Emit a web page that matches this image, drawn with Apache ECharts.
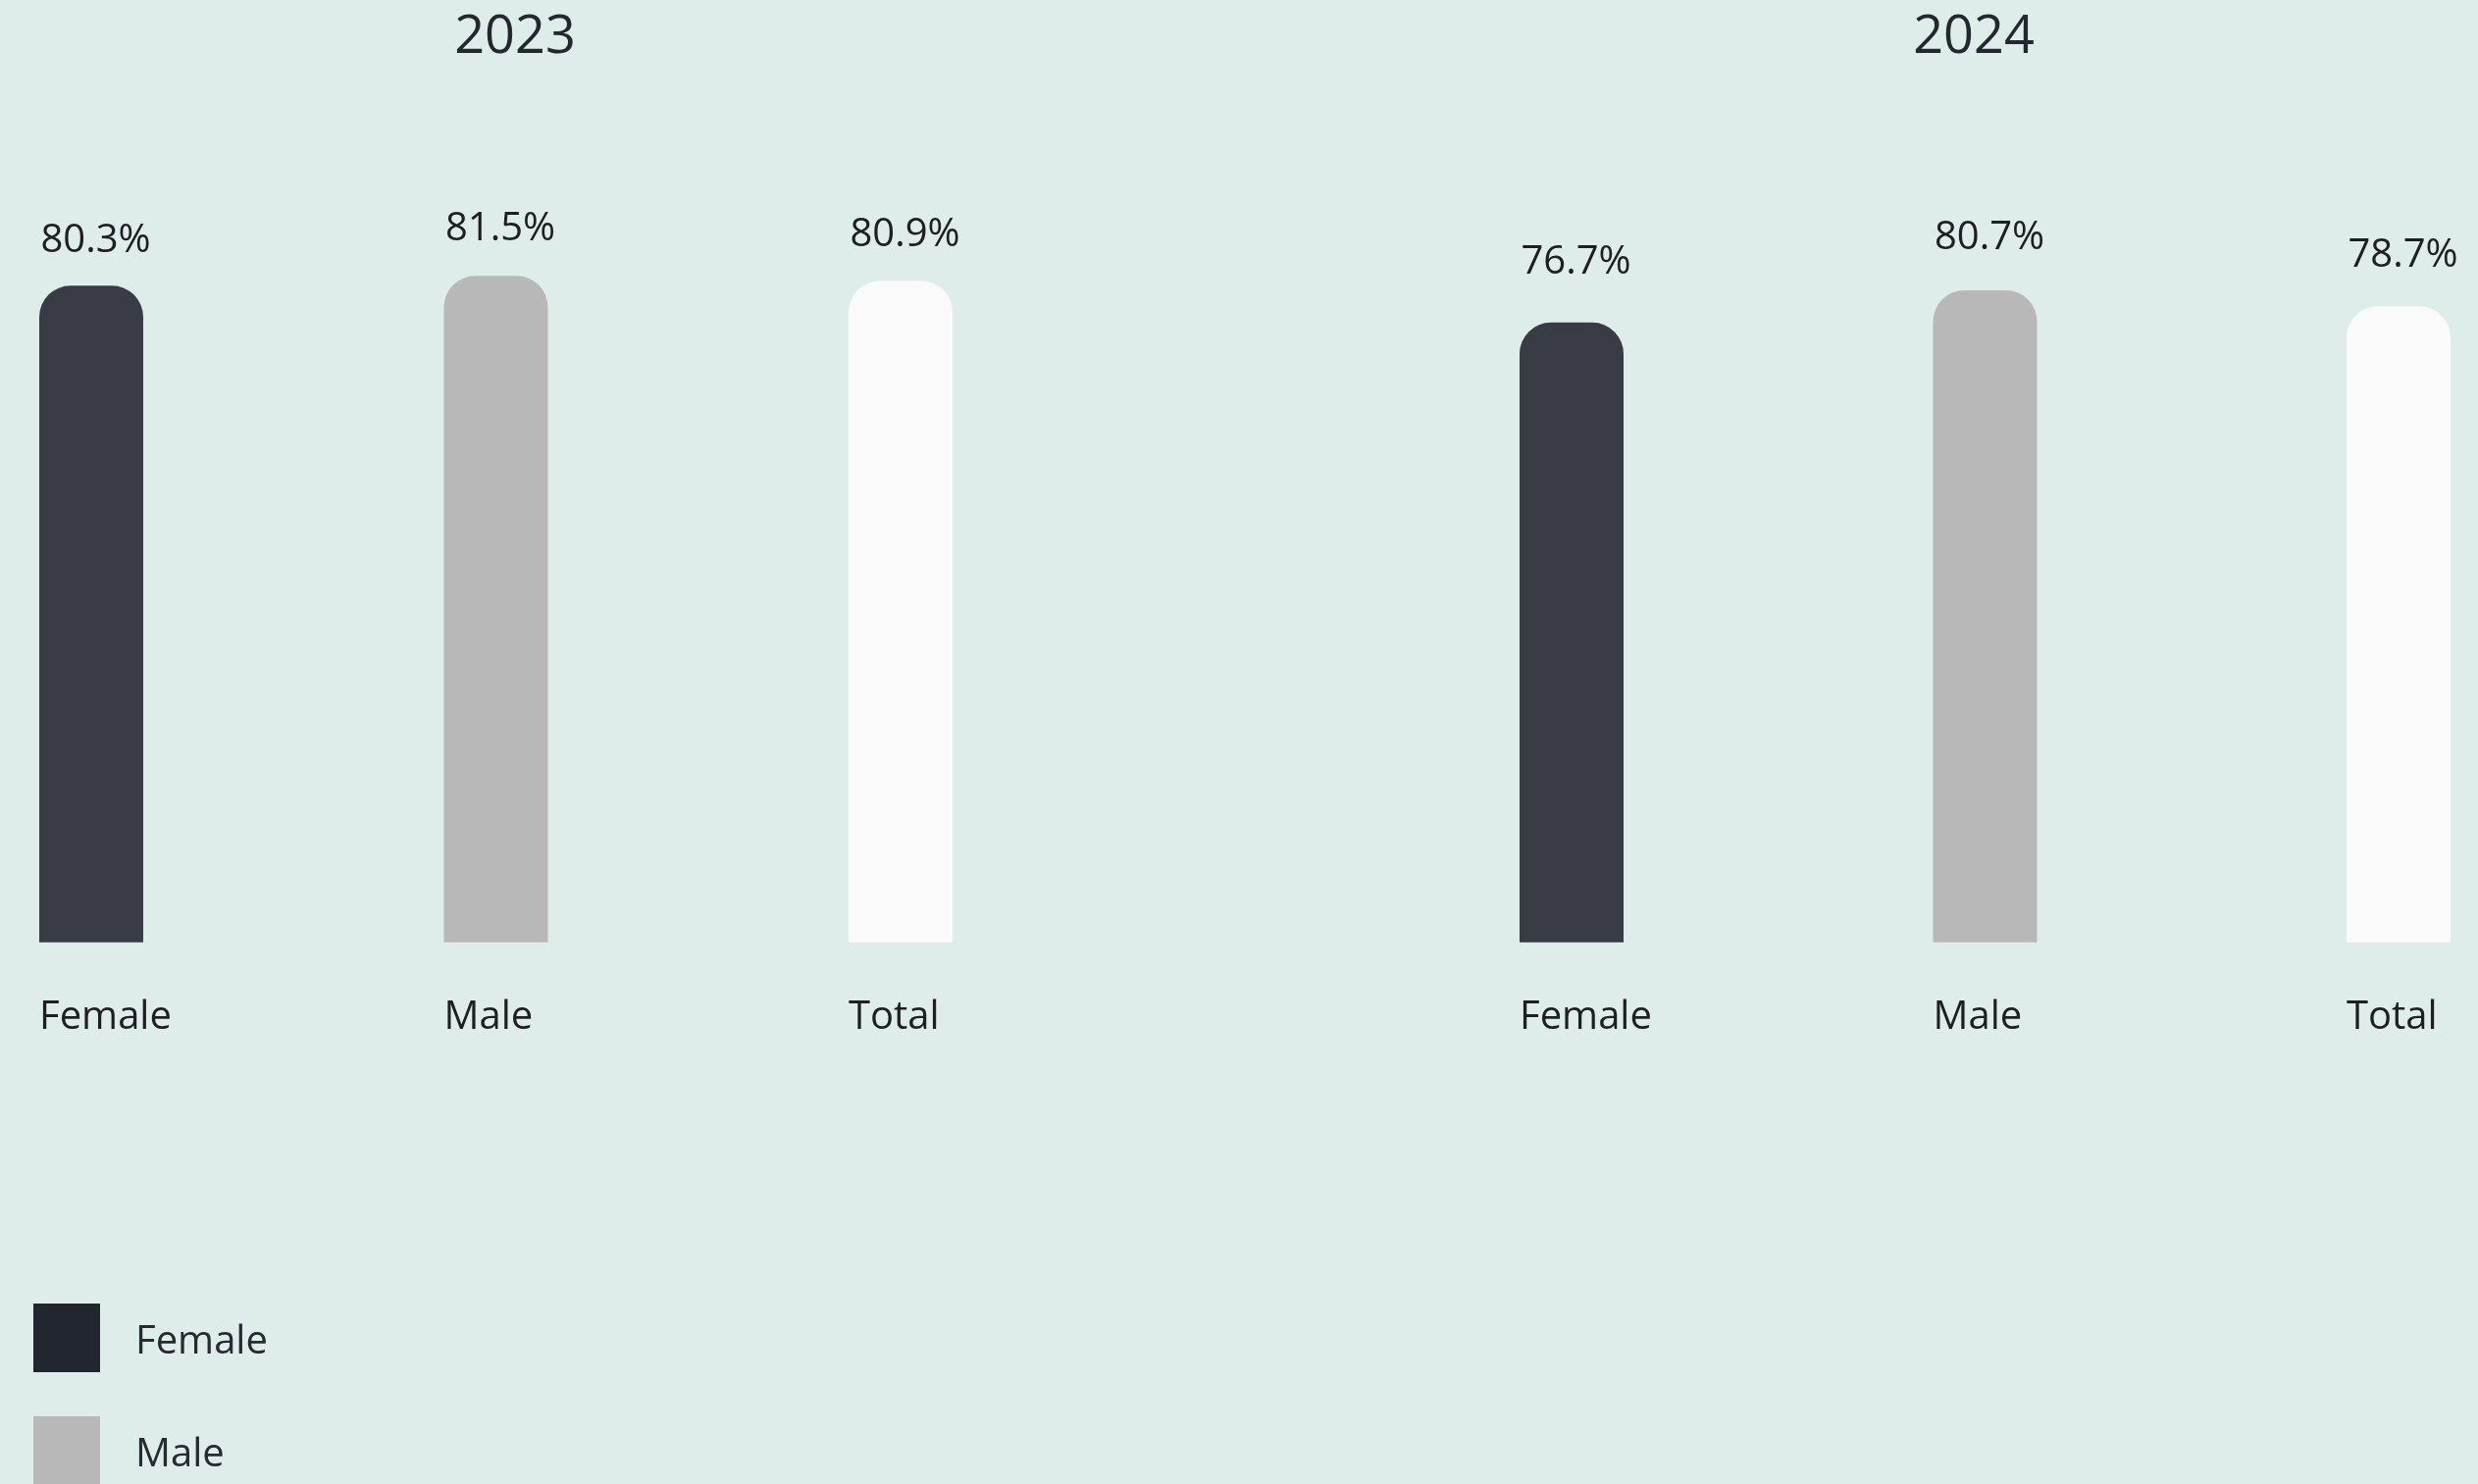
<!DOCTYPE html>
<html>
<head>
<meta charset="utf-8">
<script src="https://cdn.jsdelivr.net/npm/echarts@6/dist/echarts.min.js"></script>
<style>
html,body{margin:0;padding:0;background:#dfedea;}
#chart{width:2526px;height:1513px;}
</style>
</head>
<body>
<div id="chart"></div>
<script>
const years = ['2023', '2024'];
const categories = ['Female', 'Male', 'Total'];
const values2023 = [80.3, 81.5, 80.9];
const values2024 = [76.7, 80.7, 78.7];
const barColors = ['#393c44', '#b9b8b8', '#fafafa'];
const legendColors = ['#22262e', '#b9b8b8', '#fafafa'];

const FONT = '"Open Sans", "Noto Sans", sans-serif';
const yearValues = [values2023, values2024];
const gridLeft = [93, 1602];
const gridWidth = [825, 843];
const yMax = [100, 101.2];
const titleCenter = [520, 2007];
const labelDistance = [[26, 28, 27], [41, 33, 32]];

const grids = [], xAxes = [], yAxes = [], series = [], titles = [];
years.forEach((yr, g) => {
  grids.push({left: gridLeft[g], width: gridWidth[g], top: 127, bottom: 552.3, containLabel: false});
  titles.push({
    text: yr, left: titleCenter[g], top: 7, textAlign: 'center',
    textStyle: {fontFamily: FONT, fontSize: 54, fontWeight: 'normal', color: '#23272e'}
  });
  xAxes.push({
    type: 'category', gridIndex: g, data: categories, boundaryGap: false,
    axisLine: {show: false}, axisTick: {show: false}, splitLine: {show: false},
    axisLabel: {
      interval: 0, margin: 57, align: 'center',
      formatter: v => '{a|' + v + '}',
      rich: {a: {width: 106, align: 'left', fontFamily: FONT, fontSize: 40, color: '#1e1f22'}}
    }
  });
  yAxes.push({type: 'value', gridIndex: g, min: 0, max: yMax[g], show: false, splitLine: {show: false}});
  categories.forEach((cat, i) => {
    series.push({
      type: 'bar', name: cat, xAxisIndex: g, yAxisIndex: g,
      barWidth: 106, barGap: '-100%', clip: false,
      data: categories.map((c, j) => j === i ? yearValues[g][j] : '-'),
      itemStyle: {color: barColors[i], borderRadius: [32, 32, 0, 0]},
      label: {
        show: true, position: 'top', distance: labelDistance[g][i],
        formatter: '{a|{c}%}',
        rich: {a: {width: 106, align: 'left', padding: [0, 0, 0, 3], fontFamily: FONT, fontSize: 40, color: '#1e1f22'}}
      },
      emphasis: {disabled: true}
    });
  });
});

const chart = echarts.init(document.getElementById('chart'), null, {renderer: 'canvas'});
chart.setOption({
  backgroundColor: '#dfedea',
  animation: false,
  title: titles,
  grid: grids,
  xAxis: xAxes,
  yAxis: yAxes,
  legend: {
    orient: 'vertical', left: 34, top: 1329, height: 500, padding: 0,
    itemWidth: 68, itemHeight: 70, itemGap: 45,
    icon: 'rect', selectedMode: false,
    data: categories.map((c, i) => ({name: c, itemStyle: {color: legendColors[i]}})),
    formatter: '{a|{name}}{s|}',
    textStyle: {
      fontFamily: FONT, fontSize: 40, color: '#262a31', padding: [0, 0, 0, 31],
      rich: {
        a: {fontFamily: FONT, fontSize: 40, color: '#262a31', lineHeight: 40, verticalAlign: 'bottom'},
        s: {lineHeight: 50, width: 0}
      }
    }
  },
  series: series
});
</script>
</body>
</html>
